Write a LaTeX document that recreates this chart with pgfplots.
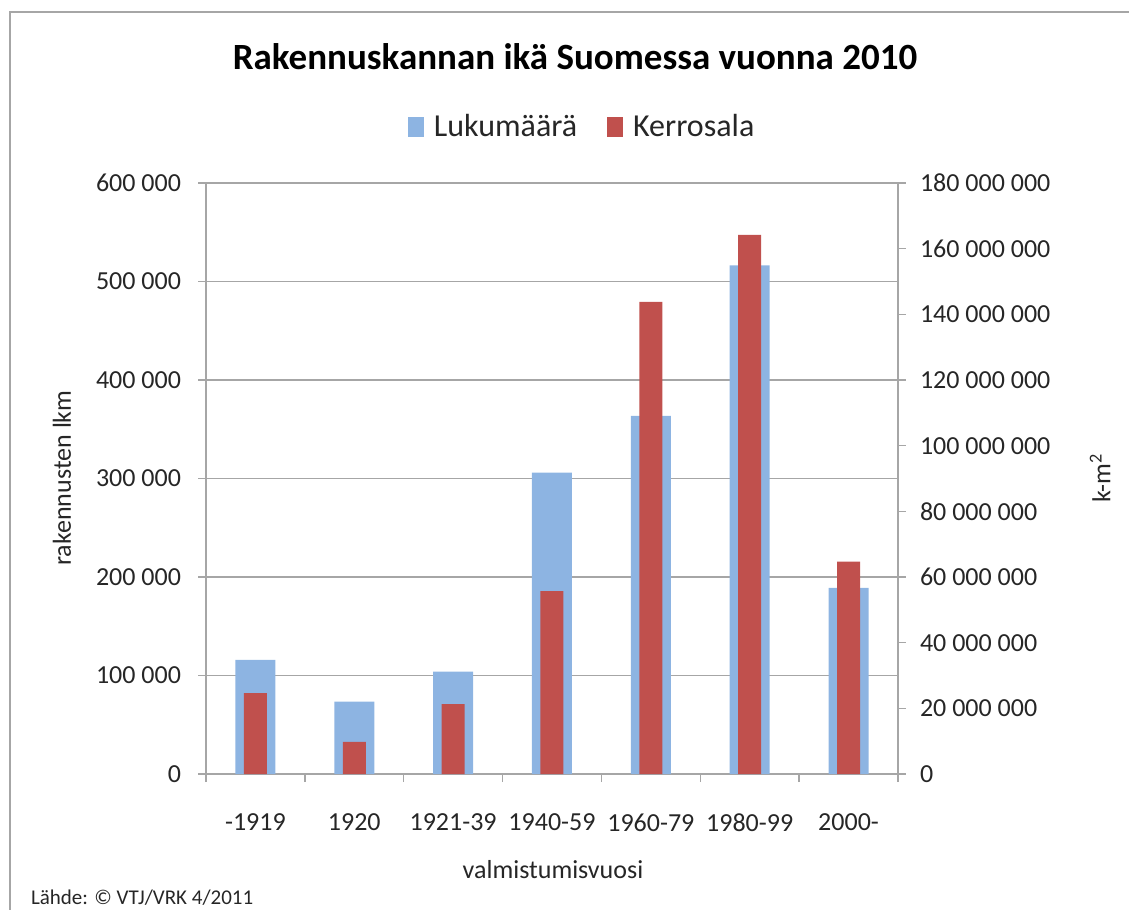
\documentclass[border=0pt]{standalone}
\usepackage{pgfplots}
\pgfplotsset{compat=1.18}
\usepackage{fontspec}
\setmainfont{Carlito}
\usepackage{pgfplotstable}

\definecolor{lkm}{HTML}{8DB4E2}
\definecolor{ala}{HTML}{C0504D}
\definecolor{gridc}{HTML}{A6A6A6}
\definecolor{txt}{HTML}{262626}

% building count (left axis) and floor area (right axis)
\pgfplotstableread{
x lkm
0 116000
1 73500
2 104000
3 306000
4 363500
5 516500
6 189000
}\lkmdata
\pgfplotstableread{
x ala
0 24600000
1 9800000
2 21300000
3 55700000
4 143800000
5 164200000
6 64700000
}\aladata

\pgfplotsset{
  base/.style={
    at={(103bp,-387bp)}, anchor=south west,
    width=346bp, height=295.5bp, scale only axis,
    xmin=-0.5, xmax=6.5, ymin=0,
    ybar, bar shift=0pt,
    tick align=outside,
    major tick length=4bp,
    every tick/.style={gridc, line width=0.75bp},
    axis line style={gridc, line width=0.75bp},
    ticklabel style={font=\fontsize{13bp}{15bp}\selectfont, text=txt},
    scaled y ticks=false,
    /pgf/number format/assume math mode=true,
    /pgf/number format/fixed,
    /pgf/number format/1000 sep={\ },
  },
  sqlegend/.style={
    legend image code/.code={\fill[##1] (0bp,-5bp) rectangle (8bp,5bp);}
  },
}

\begin{document}
\begin{tikzpicture}
\path[use as bounding box] (0,0) rectangle (564.5bp,-455bp);
\draw[gridc, line width=0.75bp] (5bp,-455bp) -- (5bp,-6bp) -- (564.5bp,-6bp);

\begin{axis}[base,
    bar width=20bp,
    ymax=600000,
    ytick={0,100000,...,600000},
    ymajorgrids,
    grid style={gridc, line width=0.75bp},
    axis y line*=left,
    axis x line*=bottom,
    ytick pos=left,
    xtick={-0.5,0.5,...,6.5},
    x tick label as interval,
    xticklabels={-1919,1920,1921-39,1940-59,1960-79,1980-99,2000-},
    xticklabel style={yshift=-12.5bp},
    yticklabel style={xshift=-5bp},
    legend columns=2,
    legend style={at={(0.545,1.095)}, anchor=center, draw=none, fill=none,
      font=\fontsize{16bp}{18bp}\selectfont, text=txt,
      /tikz/every odd column/.append style={column sep=3bp},
      /tikz/every even column/.append style={column sep=13bp}},
    sqlegend,
]
\addplot[fill=lkm, draw=none] table[x=x, y=lkm] {\lkmdata};
\addlegendentry{Lukumäärä}
\addlegendimage{fill=ala, draw=none}
\addlegendentry{Kerrosala}
\end{axis}

\begin{axis}[base,
    bar width=11.5bp,
    ymax=180000000,
    ytick={0,20000000,40000000,60000000,80000000,100000000,120000000,140000000,160000000,180000000},
    axis y line*=right,
    axis x line=none,
    ytick pos=right,
    yticklabel style={xshift=3.5bp},
]
\addplot[fill=ala, draw=none] table[x=x, y=ala] {\aladata};
\end{axis}

\node[font=\bfseries\fontsize{18.5bp}{21bp}\selectfont, text=black] at (287.5bp,-28.5bp) {Rakennuskannan ikä Suomessa vuonna 2010};
\node[font=\fontsize{13bp}{15bp}\selectfont, text=txt, rotate=90] at (31bp,-239bp) {rakennusten lkm};
\node[font=\fontsize{13bp}{15bp}\selectfont, text=txt, rotate=90] at (550bp,-239bp) {k-m\textsuperscript{2}};
\node[font=\fontsize{13bp}{15bp}\selectfont, text=txt] at (276.5bp,-435bp) {valmistumisvuosi};
\node[font=\fontsize{10.5bp}{12bp}\selectfont, text=txt, anchor=west] at (12bp,-449bp) {Lähde: © VTJ/VRK 4/2011};
\end{tikzpicture}
\end{document}
